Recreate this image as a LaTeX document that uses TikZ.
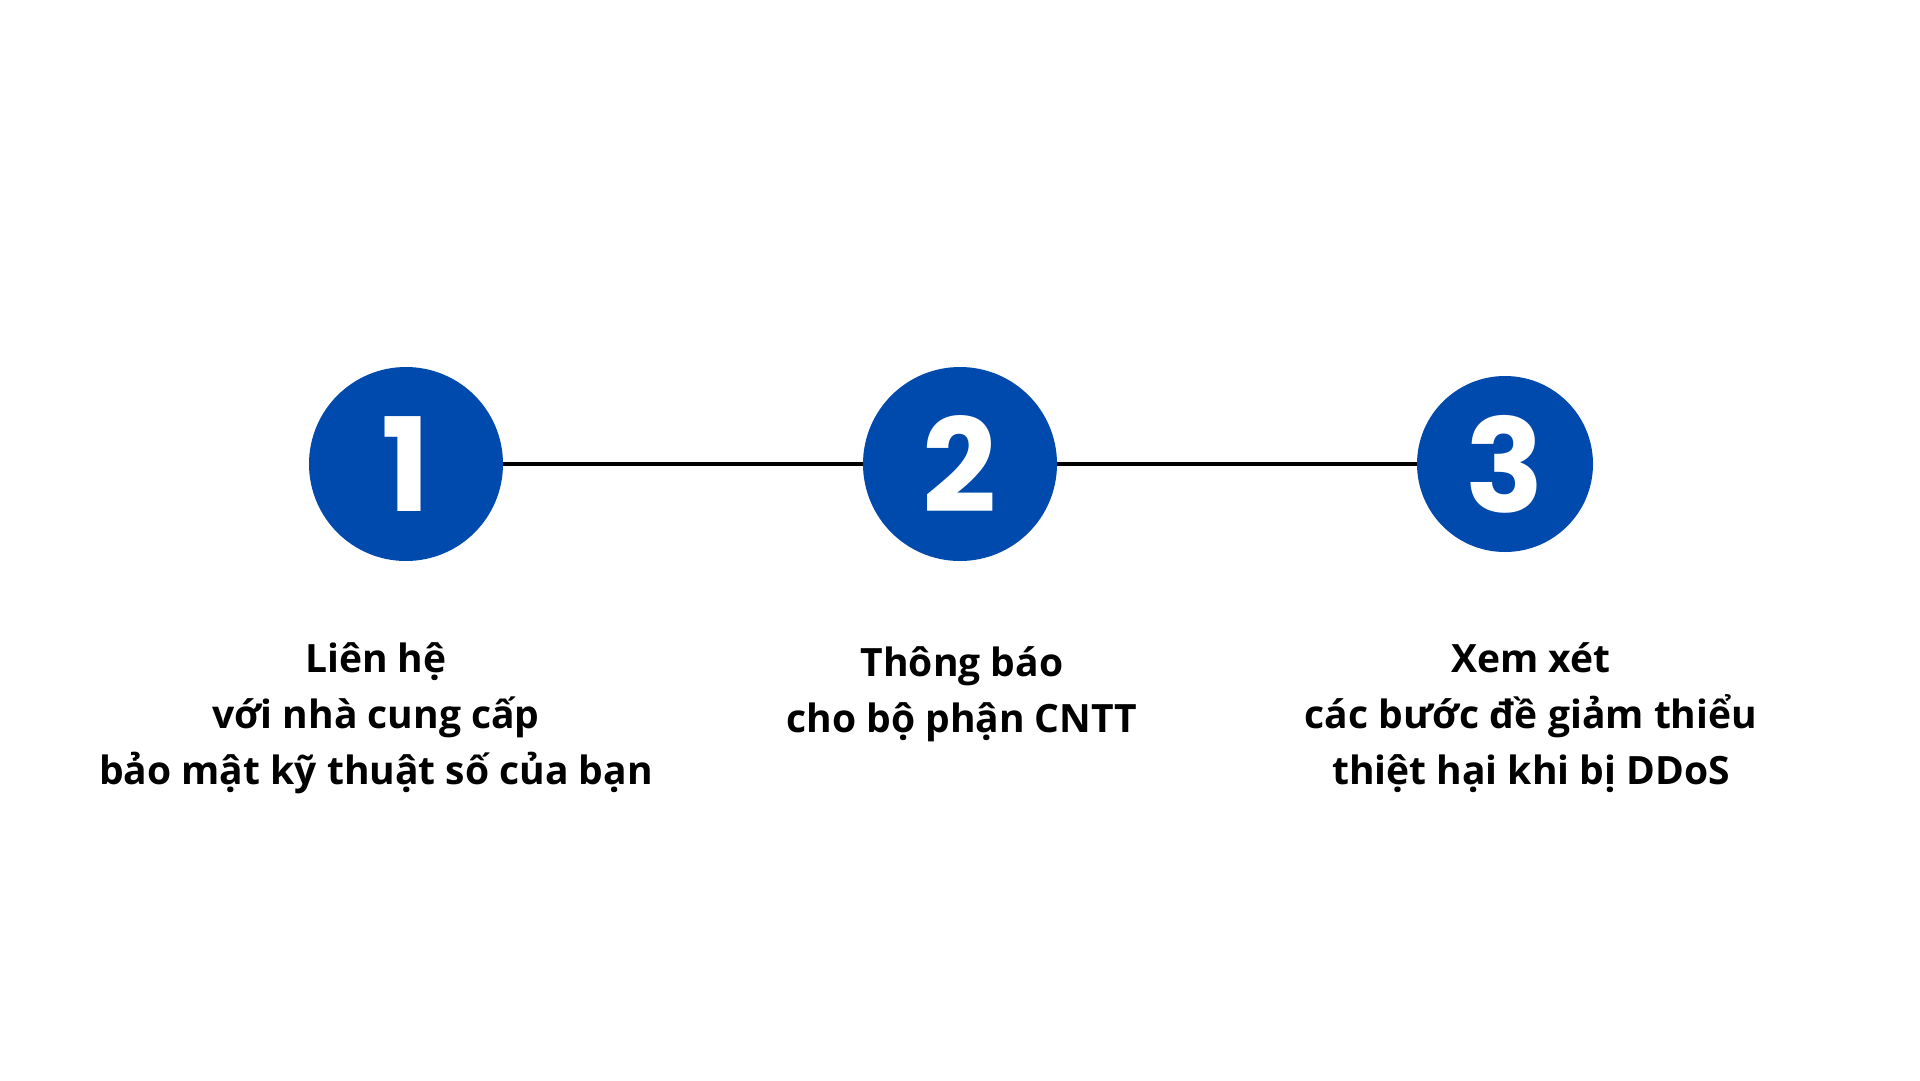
\documentclass[tikz,border=0pt]{standalone}
\usepackage{fontspec}
\setmainfont{Open Sans}
\newfontfamily\digitfont{Poppins}
\definecolor{stepblue}{HTML}{004AAD}
\begin{document}
\begin{tikzpicture}[x=1pt,y=-1pt,
  stepcircle/.style={circle, fill=stepblue, inner sep=0pt, minimum size=#1,
    text=white, font=\digitfont\bfseries\fontsize{130}{130}\selectfont},
  steplabel/.style={anchor=base, inner sep=0pt,
    font=\bfseries\fontsize{39}{56}\selectfont},
  connector/.style={line width=3.5pt, black}]
\useasboundingbox[fill=white] (0,0) rectangle (1920,1080);
\node[stepcircle=194pt] (c1) at (406,464) {1};
\node[stepcircle=194pt] (c2) at (960,464) {2};
\node[stepcircle=176pt] (c3) at (1505,464) {3};
\draw[connector] (c1) -- (c2);
\draw[connector] (c2) -- (c3);
\node[steplabel] (t1) at (376,672) {\begin{tabular}[t]{@{}c@{}}Liên hệ\\với nhà cung cấp\\bảo mật kỹ thuật số của bạn\end{tabular}};
\node[steplabel] (t2) at (962,676) {\begin{tabular}[t]{@{}c@{}}Thông báo\\cho bộ phận CNTT\end{tabular}};
\node[steplabel] (t3) at (1531,672) {\begin{tabular}[t]{@{}c@{}}Xem xét\\các bước đề giảm thiểu\\thiệt hại khi bị DDoS\end{tabular}};
\end{tikzpicture}
\end{document}
